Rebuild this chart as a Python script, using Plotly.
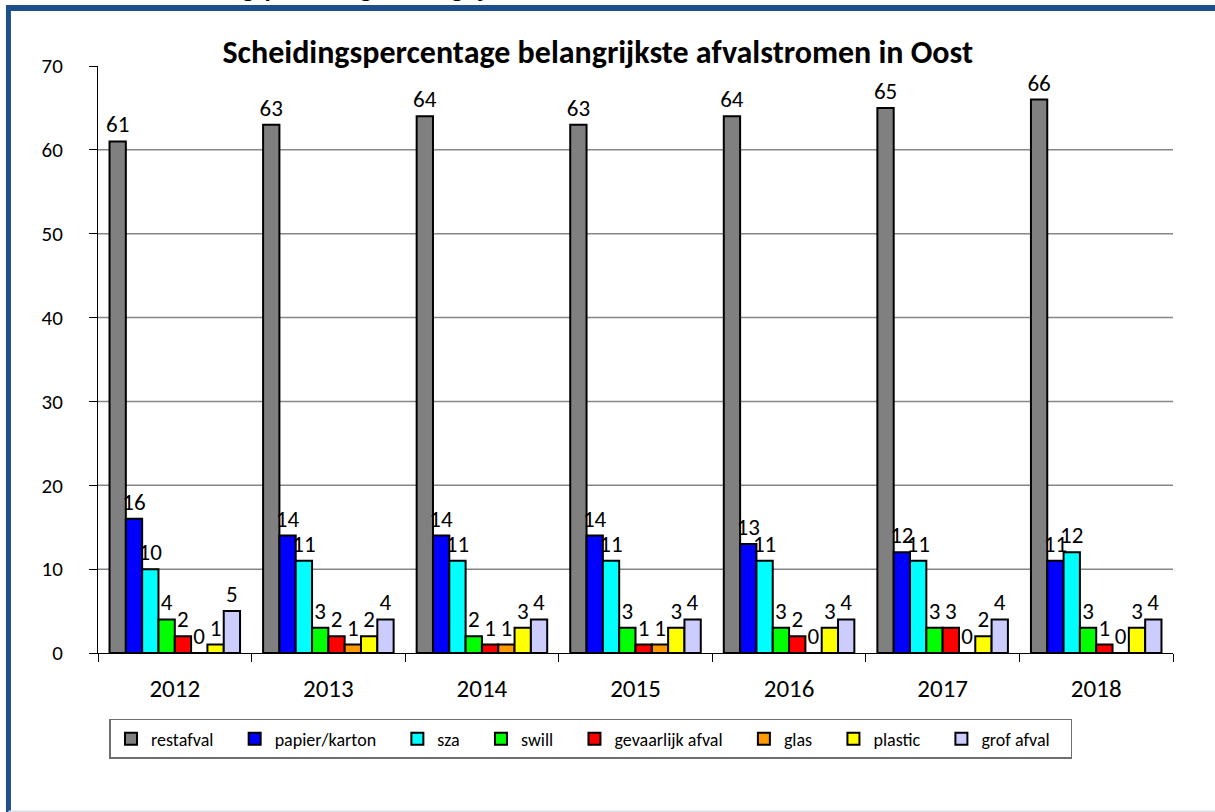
import plotly.graph_objects as go

# data
years = ["2012", "2013", "2014", "2015", "2016", "2017", "2018"]
restafval = [61, 63, 64, 63, 64, 65, 66]
papier_karton = [16, 14, 14, 14, 13, 12, 11]
sza = [10, 11, 11, 11, 11, 11, 12]
swill = [4, 3, 2, 3, 3, 3, 3]
gevaarlijk_afval = [2, 2, 1, 1, 2, 3, 1]
glas = [0, 1, 1, 1, 0, 0, 0]
plastic = [1, 2, 3, 3, 3, 2, 3]
grof_afval = [5, 4, 4, 4, 4, 4, 4]

series_names = ["restafval", "papier/karton", "sza", "swill", "gevaarlijk afval", "glas", "plastic", "grof afval"]
series_values = [restafval, papier_karton, sza, swill, gevaarlijk_afval, glas, plastic, grof_afval]
series_colors = ["#808080", "#0000FF", "#00FFFF", "#00FF00", "#FF0000", "#FF9900", "#FFFF00", "#CCCCFF"]

y_ticks = [0, 10, 20, 30, 40, 50, 60, 70]
grid_values = [10, 20, 30, 40, 50, 60]

FONT = "Carlito, Lato, 'Open Sans', sans-serif"
FRAME_BLUE = "#1F4E8C"
LEGEND_PAD = "\u00a0" * 4  # extra room between legend entries


def plot_scheiding(years, names, values, colors) -> go.Figure:
    fig = go.Figure()

    # one bar trace per waste stream
    for name, vals, color in zip(names, values, colors):
        fig.add_trace(
            go.Bar(
                x=years,
                y=vals,
                name=name + LEGEND_PAD,
                marker=dict(color=color, line=dict(color="black", width=2)),
                text=vals,
                textposition="outside",
                textfont=dict(size=23, color="black", family=FONT),
                constraintext="none",
                cliponaxis=False,
            )
        )

    # horizontal grid lines (no line at the top value)
    for v in grid_values:
        fig.add_shape(type="line", xref="paper", yref="y", x0=0, x1=1, y0=v, y1=v,
                      line=dict(color="#868686", width=1.5), layer="below")

    # outer frame of the slide
    fig.add_shape(type="line", xref="paper", yref="paper", x0=-0.0833, x1=-0.0833, y0=1.0988, y1=-0.28,
                  line=dict(color=FRAME_BLUE, width=5))
    fig.add_shape(type="line", xref="paper", yref="paper", x0=-0.0856, x1=1.1, y0=1.0988, y1=1.0988,
                  line=dict(color=FRAME_BLUE, width=6))
    fig.add_shape(type="line", xref="paper", yref="paper", x0=-0.0833, x1=1.1, y0=-0.2701, y1=-0.2701,
                  line=dict(color="#D9DEE8", width=2))

    # heading of the page, mostly cut off at the top
    fig.add_annotation(
        text="<b>Scheidingspercentage belangrijkste afvalstromen</b>",
        xref="paper", yref="paper", x=0.048, y=1.1045,
        xanchor="left", yanchor="bottom", showarrow=False, borderpad=0,
        font=dict(size=26, color="black", family=FONT),
    )

    fig.update_layout(
        width=1215,
        height=812,
        margin=dict(l=98, r=42, t=66, b=159),
        paper_bgcolor="white",
        plot_bgcolor="white",
        font=dict(family=FONT, color="black"),
        title=dict(
            text="<b>Scheidingspercentage belangrijkste afvalstromen in Oost</b>",
            x=0.492, xref="container", xanchor="center",
            y=0.936, yref="container", yanchor="middle",
            font=dict(size=32, color="black", family=FONT),
        ),
        barmode="group",
        bargap=0.15,
        bargroupgap=0,
        showlegend=True,
        legend=dict(
            orientation="h",
            x=0.4586, xanchor="center",
            y=-0.1124, yanchor="top",
            bordercolor="#6E6E6E", borderwidth=1.5,
            font=dict(size=18, family=FONT),
            itemwidth=30,
        ),
    )

    fig.update_xaxes(
        type="category",
        showline=True, linecolor="black", linewidth=1,
        ticks="outside", ticklen=8, tickcolor="black", tickson="boundaries",
        tickfont=dict(size=25, family=FONT),
        ticklabelstandoff=13,
        showgrid=False,
    )
    fig.update_yaxes(
        range=[0, 70],
        tickvals=y_ticks,
        showline=True, linecolor="black", linewidth=1,
        ticks="outside", ticklen=8, tickcolor="black",
        tickfont=dict(size=21, family=FONT),
        ticklabelstandoff=22,
        showgrid=False,
        zeroline=False,
    )

    return fig


fig = plot_scheiding(years, series_names, series_values, series_colors)
# page has a default 8px body margin; drop it so the chart sits at the window corner
fig.write_html(
    "out.html",
    config={"displayModeBar": False},
    post_script="document.body.style.margin = '0';",
)
